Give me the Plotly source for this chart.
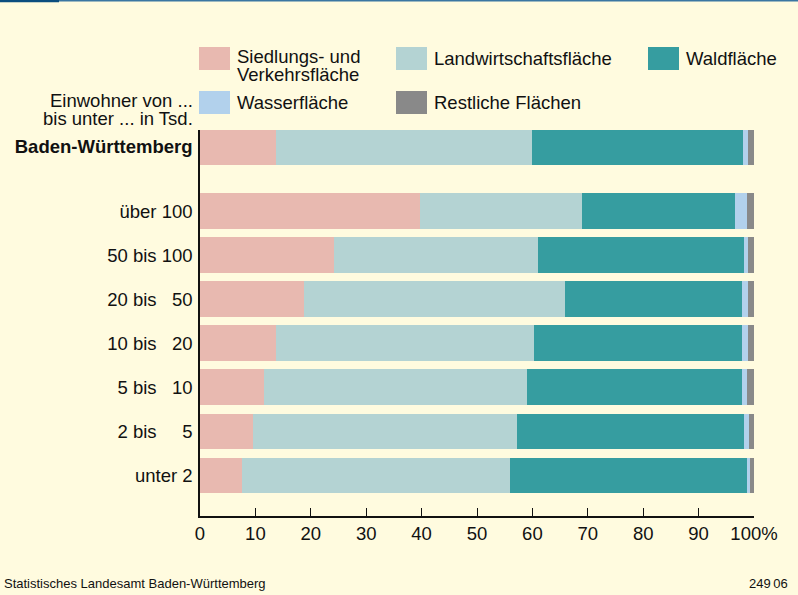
import plotly.graph_objects as go

# ---- data ----
groups = ["Baden-Württemberg", "über 100", "50 bis 100", "20 bis 50", "10 bis 20",
          "5 bis 10", "2 bis 5", "unter 2"]
group_labels = ["<b>Baden-Württemberg</b>", "über 100", "50 bis 100",
                "20 bis\u00a0\u00a0\u00a050", "10 bis\u00a0\u00a0\u00a020",
                "5 bis\u00a0\u00a0\u00a010", "2 bis\u00a0\u00a0\u00a0\u00a0\u00a05", "unter 2"]
series_names = ["Siedlungs- und Verkehrsfläche", "Landwirtschaftsfläche", "Waldfläche",
                "Wasserfläche", "Restliche Flächen"]
siedlung = [13.7, 39.7, 24.2, 18.8, 13.8, 11.5, 9.6, 7.5]
landwirtschaft = [46.3, 29.3, 36.8, 47.0, 46.4, 47.5, 47.6, 48.5]
wald = [38.0, 27.6, 37.2, 32.0, 37.6, 38.8, 41.0, 42.7]
wasser = [1.0, 2.1, 0.8, 1.1, 1.1, 0.9, 0.9, 0.5]
rest = [1.0, 1.3, 1.0, 1.1, 1.1, 1.3, 0.9, 0.8]
x_ticks = [0, 10, 20, 30, 40, 50, 60, 70, 80, 90, 100]
x_ticktext = ["0", "10", "20", "30", "40", "50", "60", "70", "80", "90", "100%"]

colors = ["#e8b9b0", "#b4d3d3", "#369da0", "#b2d1ec", "#898989"]
BG = "#fffbdf"
FONT = "Liberation Sans, Arial, sans-serif"

# positions: group rows from bottom; the state total sits a bit higher
n = len(groups) - 1
ypos = [n + 0.455] + [n - 1 - i for i in range(n)]

fig = go.Figure()
for name, vals, col in zip(series_names, [siedlung, landwirtschaft, wald, wasser, rest], colors):
    fig.add_trace(go.Bar(
        x=vals, y=ypos, orientation="h", name=name,
        marker=dict(color=col, line=dict(width=0)),
        width=0.81, showlegend=False, hoverinfo="x+name",
    ))

fig.update_layout(
    width=798, height=595,
    margin=dict(l=200, r=44, t=130, b=79),
    paper_bgcolor=BG, plot_bgcolor=BG,
    barmode="stack", bargap=0,
    font=dict(family=FONT, size=18.5, color="#111111"),
    xaxis=dict(range=[0, 100], tickvals=x_ticks, ticktext=x_ticktext,
               showgrid=False, zeroline=False, showline=True, linecolor="#111111",
               linewidth=1.5, ticks="inside", ticklen=8, tickwidth=1.3, tickcolor="#111111",
               tickfont=dict(size=18.5, family=FONT, color="#111111"), fixedrange=True),
    yaxis=dict(range=[-0.92, 7.84], tickvals=ypos, ticktext=group_labels,
               showgrid=False, zeroline=False, showline=True, linecolor="#111111",
               linewidth=1.5, ticks="", ticklabelstandoff=2,
               tickfont=dict(size=18.5, family=FONT, color="#111111"), fixedrange=True),
)

# convert pixel coordinates into paper coordinates
PW, PH = 554.0, 386.0
def px(x):
    return (x - 200) / PW
def py(y):
    return (516.0 - y) / PH

# ---- top rule ----
fig.add_shape(type="rect", xref="paper", yref="paper", x0=px(0), x1=px(59),
              y0=py(0), y1=py(2.2), line=dict(width=0), fillcolor="#0b4d7e")
fig.add_shape(type="rect", xref="paper", yref="paper", x0=px(59), x1=px(798),
              y0=py(0), y1=py(1.6), line=dict(width=0), fillcolor="#3a76a2")

# ---- legend (manual) ----
legend_items = [
    (199, 47, 0, ["Siedlungs- und", "Verkehrsfläche"]),
    (396, 47, 1, ["Landwirtschaftsfläche"]),
    (648, 47, 2, ["Waldfläche"]),
    (199, 91, 3, ["Wasserfläche"]),
    (396, 91, 4, ["Restliche Flächen"]),
]
for x0, y0, ci, lines in legend_items:
    fig.add_shape(type="rect", xref="paper", yref="paper", x0=px(x0), x1=px(x0 + 31),
                  y0=py(y0), y1=py(y0 + 23), line=dict(width=0), fillcolor=colors[ci])
    if len(lines) == 1:
        fig.add_annotation(x=px(x0 + 36), y=py(y0 + 11.5), xref="paper", yref="paper",
                           text=lines[0], showarrow=False, xanchor="left", yanchor="middle",
                           font=dict(size=18.5, family=FONT, color="#111111"))
    else:
        for k, t in enumerate(lines):
            fig.add_annotation(x=px(x0 + 36), y=py(y0 + 9.5 + 17.7 * k), xref="paper", yref="paper",
                               text=t, showarrow=False, xanchor="left", yanchor="middle",
                               font=dict(size=18.5, family=FONT, color="#111111"))

for k, t in enumerate(["Einwohner von ...", "bis unter ... in Tsd."]):
    fig.add_annotation(x=px(195), y=py(101 + 17.3 * k), xref="paper", yref="paper",
                       text=t, showarrow=False, xanchor="right", yanchor="middle",
                       font=dict(size=18.5, family=FONT, color="#111111"))

# ---- footer ----
fig.add_annotation(x=px(2), y=py(583), xref="paper", yref="paper",
                   text="Statistisches Landesamt Baden-Württemberg", showarrow=False,
                   xanchor="left", yanchor="middle",
                   font=dict(size=13, family=FONT, color="#111111"))
fig.add_annotation(x=px(790), y=py(583), xref="paper", yref="paper",
                   text="249\u200906", showarrow=False,
                   xanchor="right", yanchor="middle",
                   font=dict(size=13, family=FONT, color="#111111"))

fig.write_html("out.html")
